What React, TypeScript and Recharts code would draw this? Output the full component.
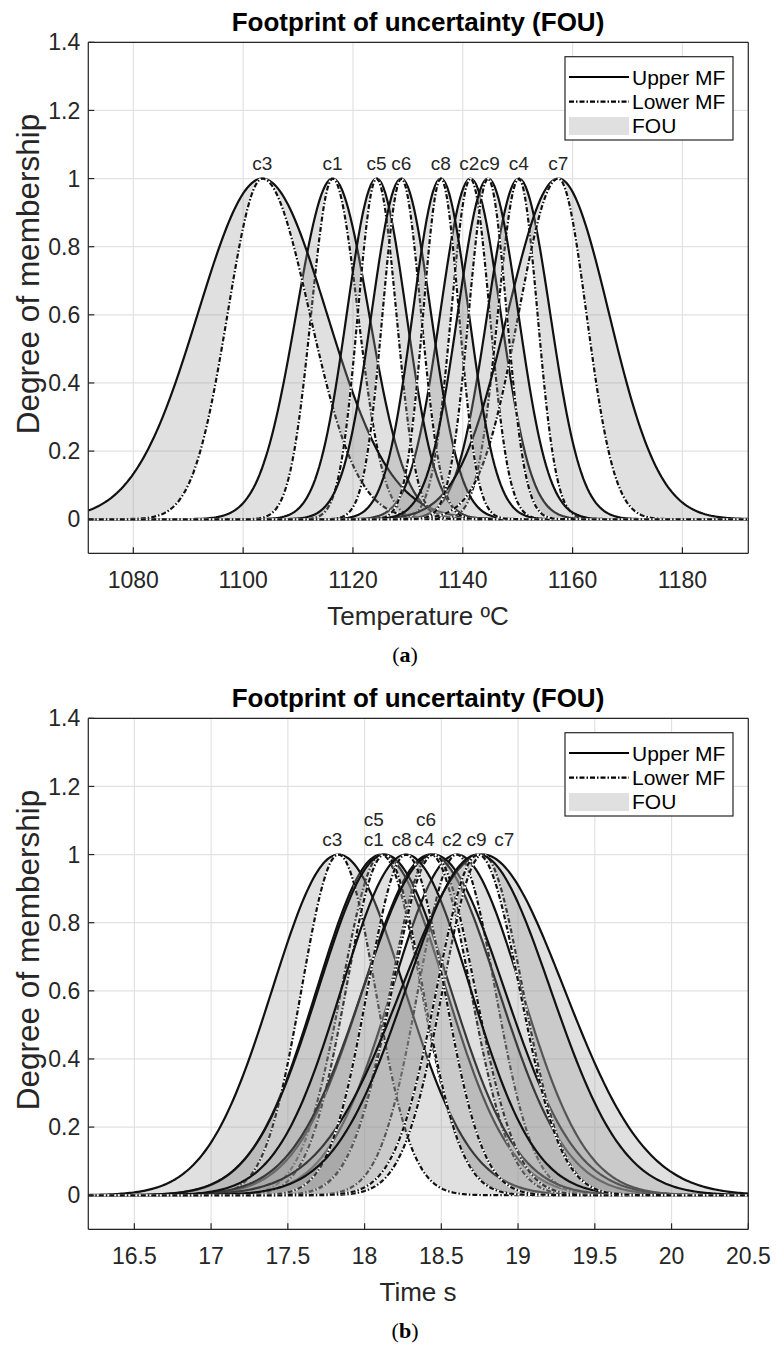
import {
  Area,
  CartesianGrid,
  ComposedChart,
  Line,
  ReferenceDot,
  XAxis,
  YAxis,
} from "recharts";

const setNames = ["c1", "c2", "c3", "c4", "c5", "c6", "c7", "c8", "c9"];
const membershipTicks = [0, 0.2, 0.4, 0.6, 0.8, 1, 1.2, 1.4];

// (a) temperature sets: centre, upper MF spread, lower MF spread left/right of the centre
const tempCenters = [1116.3, 1141.4, 1103.5, 1150.2, 1124.3, 1128.8, 1157.4, 1136.0, 1144.6];
const tempUpperSigma = [6.6, 5.5, 11.7, 5.7, 5.4, 5.4, 9.2, 5.1, 5.5];
const tempLowerLeft = [3.9, 3.5, 6.3, 3.8, 3.4, 3.4, 7.2, 3.2, 3.5];
const tempLowerRight = [4.6, 3.5, 8.6, 3.4, 3.6, 3.6, 5.1, 3.3, 3.4];
const tempTicks = [1080, 1100, 1120, 1140, 1160, 1180];
const tempDomain: [number, number] = [1071.8, 1192];
const tempLabelX = [1116.3, 1141.2, 1103.5, 1150.2, 1124.3, 1128.8, 1157.4, 1136.0, 1144.9];
const tempLabelRow = [0, 0, 0, 0, 0, 0, 0, 0, 0];

// (b) time sets
const timeCenters = [18.11, 18.6, 17.83, 18.43, 18.13, 18.45, 18.77, 18.27, 18.74];
const timeUpperSigma = [0.42, 0.42, 0.43, 0.44, 0.43, 0.46, 0.53, 0.42, 0.47];
const timeLowerLeft = [0.26, 0.25, 0.24, 0.26, 0.25, 0.27, 0.26, 0.25, 0.27];
const timeLowerRight = [0.26, 0.25, 0.24, 0.26, 0.25, 0.27, 0.26, 0.25, 0.27];
const timeTicks = [16.5, 17, 17.5, 18, 18.5, 19, 19.5, 20, 20.5];
const timeDomain: [number, number] = [16.2, 20.5];
const timeLabelX = [18.06, 18.57, 17.79, 18.39, 18.06, 18.4, 18.91, 18.24, 18.73];
const timeLabelRow = [0, 0, 0, 0, 1, 1, 0, 0, 0];

const FONT = '"Liberation Sans", Arial, Helvetica, sans-serif';
const INK = "#262626";

function gaussMF(x: number, c: number, left: number, right: number) {
  const s = x < c ? left : right;
  return Math.exp(-((x - c) * (x - c)) / (2 * s * s));
}

function buildRows(
  domain: [number, number],
  samples: number,
  centers: number[],
  upper: number[],
  lowerLeft: number[],
  lowerRight: number[],
) {
  const rows: Record<string, number>[] = [];
  const step = (domain[1] - domain[0]) / samples;
  for (let k = 0; k <= samples; k++) {
    const x = domain[0] + k * step;
    const row: Record<string, number> = { x };
    centers.forEach((c, i) => {
      row[`u${i}`] = gaussMF(x, c, upper[i], upper[i]);
      row[`l${i}`] = gaussMF(x, c, lowerLeft[i], lowerRight[i]);
    });
    rows.push(row);
  }
  return rows;
}

const tempRows = buildRows(tempDomain, 320, tempCenters, tempUpperSigma, tempLowerLeft, tempLowerRight);
const timeRows = buildRows(timeDomain, 320, timeCenters, timeUpperSigma, timeLowerLeft, timeLowerRight);

interface PanelProps {
  rows: Record<string, number>[];
  domain: [number, number];
  ticks: number[];
  labelX: number[];
  labelRow: number[];
}

function Panel({ rows, domain, ticks, labelX, labelRow }: PanelProps) {
  // axes are 1px thick so they render; margins compensate so the plot box is 88.3..748.3 x 42.3..553.3
  return (
    <ComposedChart
      width={776}
      height={600}
      data={rows}
      margin={{ top: 41.3, right: 26.7, bottom: 45.7, left: 87.3 }}
    >
      <CartesianGrid stroke="#e2e2e2" strokeWidth={1.2} />
      <XAxis
        dataKey="x"
        type="number"
        domain={domain}
        ticks={ticks}
        interval={0}
        allowDataOverflow
        height={1}
        tickSize={-6}
        tickMargin={24}
        stroke={INK}
        strokeWidth={1.2}
        tick={{ fill: INK, fontSize: 23 }}
      />
      <XAxis
        xAxisId="top"
        orientation="top"
        dataKey="x"
        type="number"
        domain={domain}
        ticks={ticks}
        interval={0}
        allowDataOverflow
        height={1}
        tickSize={-6}
        tick={false}
        stroke={INK}
        strokeWidth={1.2}
      />
      <YAxis
        type="number"
        domain={[-0.1, 1.4]}
        ticks={membershipTicks}
        interval={0}
        allowDataOverflow
        width={1}
        tickSize={-6}
        tickMargin={14}
        stroke={INK}
        strokeWidth={1.2}
        tick={{ fill: INK, fontSize: 23 }}
      />
      <YAxis
        yAxisId="right"
        orientation="right"
        type="number"
        domain={[-0.1, 1.4]}
        ticks={membershipTicks}
        interval={0}
        allowDataOverflow
        width={1}
        tickSize={-6}
        tick={false}
        stroke={INK}
        strokeWidth={1.2}
      />
      {setNames.flatMap((name, i) => [
        <Area
          key={`fou-${name}`}
          dataKey={(d: Record<string, number>) => [d[`l${i}`], d[`u${i}`]]}
          type="linear"
          stroke="none"
          fill="#999999"
          fillOpacity={0.3}
          isAnimationActive={false}
          activeDot={false}
          zIndex={100 + i * 4}
        />,
        <Line
          key={`upper-${name}`}
          dataKey={`u${i}`}
          type="linear"
          stroke="#111111"
          strokeWidth={2.2}
          dot={false}
          activeDot={false}
          isAnimationActive={false}
          zIndex={101 + i * 4}
        />,
        <Line
          key={`lowerbg-${name}`}
          dataKey={`l${i}`}
          type="linear"
          stroke="#ffffff"
          strokeWidth={2.2}
          dot={false}
          activeDot={false}
          isAnimationActive={false}
          zIndex={102 + i * 4}
        />,
        <Line
          key={`lower-${name}`}
          dataKey={`l${i}`}
          type="linear"
          stroke="#111111"
          strokeWidth={2.2}
          strokeDasharray="5 2 1.5 2"
          dot={false}
          activeDot={false}
          isAnimationActive={false}
          zIndex={103 + i * 4}
        />,
      ])}
      {setNames.map((name, i) => (
        <ReferenceDot
          key={`label-${name}`}
          x={labelX[i]}
          y={1}
          r={0}
          fill="none"
          stroke="none"
          label={{
            value: name,
            position: "top",
            offset: labelRow[i] ? 29 : 9,
            fill: INK,
            fontSize: 19,
          }}
        />
      ))}
    </ComposedChart>
  );
}

function Decorations({ top, xLabel, tag }: { top: number; xLabel: string; tag: string }) {
  const lx = 565;
  const ly = top + 56.7;
  return (
    <g>
      <text x={418} y={top + 31} textAnchor="middle" fontSize={26} fontWeight="bold" fill="#000">
        Footprint of uncertainty (FOU)
      </text>
      <text
        x={0}
        y={0}
        transform={`translate(39 ${top + 274}) rotate(-90)`}
        textAnchor="middle"
        fontSize={31.5}
        fill={INK}
      >
        Degree of membership
      </text>
      <text x={418} y={top + 625} textAnchor="middle" fontSize={26} fill={INK}>
        {xLabel}
      </text>
      <text x={405} y={top + 662} textAnchor="middle" fontSize={22} fill="#000" fontFamily='"Liberation Serif", "DejaVu Serif", serif'>
        (<tspan fontWeight="bold">{tag}</tspan>)
      </text>
      <rect x={lx} y={ly} width={168} height={83.3} fill="#ffffff" stroke={INK} strokeWidth={1.2} />
      <line x1={lx + 4} x2={lx + 64} y1={ly + 20.3} y2={ly + 20.3} stroke="#000" strokeWidth={2.2} />
      <text x={lx + 67} y={ly + 27.8} fontSize={21} fill="#000">Upper MF</text>
      <line
        x1={lx + 4}
        x2={lx + 64}
        y1={ly + 45}
        y2={ly + 45}
        stroke="#000"
        strokeWidth={2.2}
        strokeDasharray="5 2 1.5 2"
      />
      <text x={lx + 67} y={ly + 52.5} fontSize={21} fill="#000">Lower MF</text>
      <rect x={lx + 4} y={ly + 60.3} width={60} height={18} fill="#e0e0e0" />
      <text x={lx + 67} y={ly + 76} fontSize={21} fill="#000">FOU</text>
    </g>
  );
}

export default function App() {
  return (
    <div
      style={{
        position: "absolute",
        left: 0,
        top: 0,
        width: 776,
        height: 1351,
        background: "#ffffff",
        fontFamily: FONT,
      }}
    >
      <div style={{ position: "absolute", left: 0, top: 0 }}>
        <Panel rows={tempRows} domain={tempDomain} ticks={tempTicks} labelX={tempLabelX} labelRow={tempLabelRow} />
      </div>
      <div style={{ position: "absolute", left: 0, top: 676 }}>
        <Panel rows={timeRows} domain={timeDomain} ticks={timeTicks} labelX={timeLabelX} labelRow={timeLabelRow} />
      </div>
      <svg
        width={776}
        height={1351}
        style={{ position: "absolute", left: 0, top: 0, pointerEvents: "none", fontFamily: FONT }}
      >
        <Decorations top={0} xLabel="Temperature ºC" tag="a" />
        <Decorations top={676} xLabel="Time s" tag="b" />
      </svg>
    </div>
  );
}
